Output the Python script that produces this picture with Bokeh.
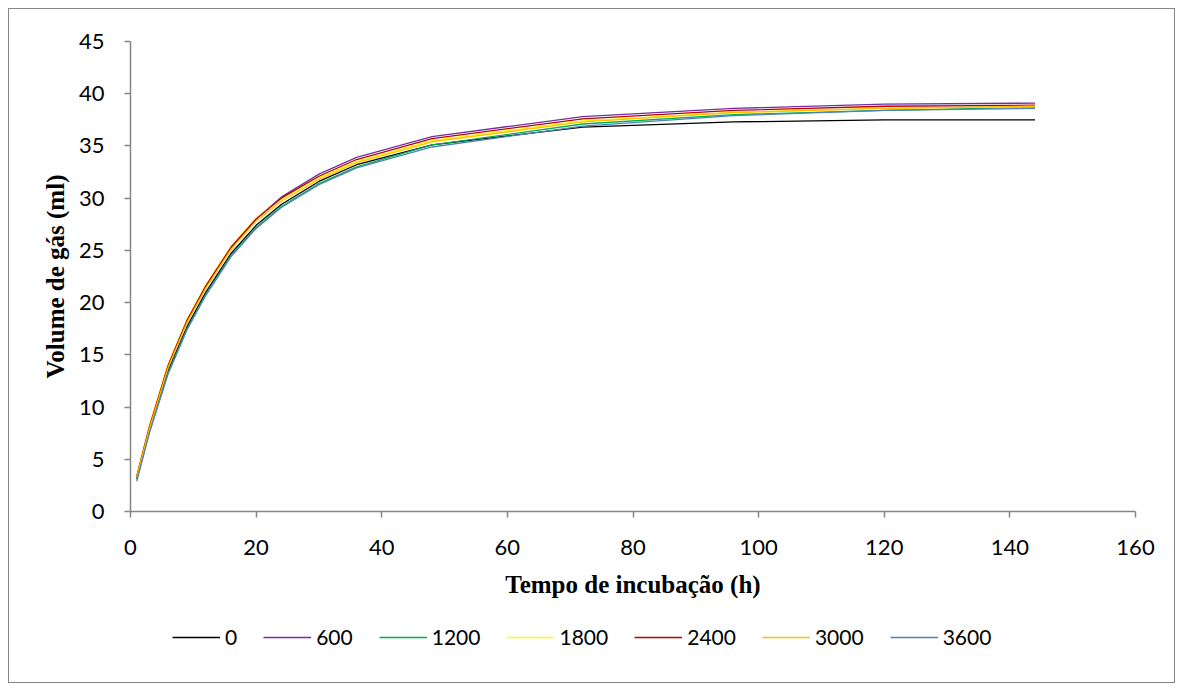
from bokeh.plotting import figure
from bokeh.models import Range1d, SingleIntervalTicker, Legend, LegendItem
from bokeh.layouts import column
from bokeh.embed import file_html
from bokeh.resources import INLINE

# Incubation times (h)
tempo = [1, 3, 6, 9, 12, 16, 20, 24, 30, 36, 48, 72, 96, 120, 144]

# Gas volume (ml) per dose
dose_labels = ["0", "600", "1200", "1800", "2400", "3000", "3600"]
v0    = [3.1, 7.7, 13.5, 17.7, 21.0, 24.7, 27.4, 29.4, 31.6, 33.2, 35.1, 36.8, 37.3, 37.5, 37.5]
v600  = [3.3, 8.0, 13.9, 18.2, 21.5, 25.2, 28.0, 30.1, 32.3, 33.9, 35.9, 37.8, 38.6, 39.0, 39.1]
v1200 = [3.1, 7.6, 13.3, 17.5, 20.8, 24.5, 27.2, 29.2, 31.4, 33.0, 35.1, 37.1, 38.0, 38.4, 38.7]
v1800 = [3.4, 8.2, 14.1, 18.4, 21.7, 25.4, 28.1, 29.9, 32.0, 33.5, 35.5, 37.4, 38.2, 38.6, 38.75]
v2400 = [3.4, 8.1, 14.0, 18.3, 21.6, 25.3, 28.0, 30.0, 32.1, 33.7, 35.7, 37.6, 38.4, 38.8, 38.9]
v3000 = [3.3, 7.9, 13.8, 18.1, 21.4, 25.1, 27.8, 29.7, 31.8, 33.4, 35.4, 37.3, 38.2, 38.6, 38.8]
v3600 = [2.9, 7.5, 13.2, 17.4, 20.7, 24.4, 27.1, 29.1, 31.3, 32.9, 34.9, 36.9, 37.9, 38.4, 38.6]
series = [v0, v600, v1200, v1800, v2400, v3000, v3600]
colors = ["#000000", "#7030A0", "#00B050", "#FFFF00", "#C00000", "#FFC000", "#4F81BD"]

x_ticks_interval = 20
y_ticks_interval = 5

W = 1165
H_MAIN = 610
H_LEG = 63

p = figure(width=W, height=H_MAIN, output_backend="svg", toolbar_location=None,
           x_range=Range1d(0, 160), y_range=Range1d(0, 45),
           min_border_left=121, min_border_right=39, min_border_top=32,
           min_border_bottom=H_MAIN - 502)
p.outline_line_color = None
p.xgrid.visible = False
p.ygrid.visible = False
p.background_fill_color = "white"
p.border_fill_color = "white"

p.xaxis.ticker = SingleIntervalTicker(interval=x_ticks_interval)
p.yaxis.ticker = SingleIntervalTicker(interval=y_ticks_interval)
for ax in (p.xaxis[0], p.yaxis[0]):
    ax.axis_line_color = "#868686"
    ax.axis_line_width = 1.5
    ax.major_tick_line_color = "#868686"
    ax.major_tick_line_width = 1.5
    ax.major_tick_out = 6
    ax.major_tick_in = 0
    ax.minor_tick_line_color = None
    ax.major_label_text_font = "Lato"
    ax.major_label_text_font_size = "22px"
    ax.major_label_text_color = "#000000"
    ax.axis_label_text_font = "Liberation Serif"
    ax.axis_label_text_font_style = "bold"
    ax.axis_label_text_font_size = "25px"
    ax.axis_label_text_color = "#000000"

p.xaxis.axis_label = "Tempo de incubação (h)"
p.yaxis.axis_label = "Volume de gás (ml)"
p.xaxis.major_label_standoff = 22
p.yaxis.major_label_standoff = 20
p.xaxis.axis_label_standoff = 13
p.yaxis.axis_label_standoff = 7

for vals, col in zip(series, colors):
    p.line(tempo, vals, line_color=col, line_width=1.3)

# Legend strip (same series, drawn out of view; only the legend is visible)
p2 = figure(width=W, height=H_LEG, output_backend="svg", toolbar_location=None,
            x_range=Range1d(1000, 1001), y_range=Range1d(1000, 1001),
            x_axis_location=None, y_axis_location=None,
            min_border_left=121, min_border_right=39, min_border_top=0, min_border_bottom=0)
p2.outline_line_color = None
p2.xgrid.visible = False
p2.ygrid.visible = False
p2.background_fill_color = "white"
p2.border_fill_color = "white"

items = []
for lab, vals, col in zip(dose_labels, series, colors):
    r = p2.line(tempo, vals, line_color=col, line_width=1.6)
    items.append(LegendItem(label=lab, renderers=[r]))

legend = Legend(items=items, orientation="horizontal", location=(42, 33),
                glyph_width=48, glyph_height=18, label_standoff=5, spacing=26,
                label_width=0, padding=0, margin=0, border_line_color=None,
                background_fill_alpha=0,
                label_text_font="Lato", label_text_font_size="21px",
                label_text_color="#000000")
p2.add_layout(legend, "center")

layout = column(p, p2, spacing=0)
layout.styles = {"border": "1px solid #868686", "margin": "8px"}

open("out.html", "w").write(file_html(layout, INLINE))
